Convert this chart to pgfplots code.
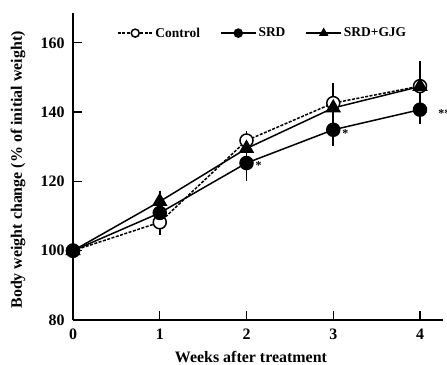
\documentclass[border=0pt]{standalone}
\usepackage{pgfplots}
\pgfplotsset{compat=1.18}
\usepackage{fontspec}
\setmainfont{Liberation Serif}
\begin{document}
\begin{tikzpicture}
\useasboundingbox (-73bp,-45bp) rectangle (374bp,320bp);
\begin{axis}[
  scale only axis,
  width=370bp, height=307bp,
  xmin=0, xmax=4.265, ymin=80, ymax=168.6,
  axis lines*=left,
  axis line style={line width=1.6bp},
  tick align=inside,
  major tick length=9bp,
  every tick/.style={line width=1.3bp, black},
  xtick={0,1,2,3,4},
  ytick={80,100,120,140,160},
  /pgf/number format/assume math mode=true,
  tick label style={font=\fontsize{16}{16}\selectfont\bfseries},
  xticklabel style={yshift=-5bp},
  yticklabel style={xshift=-5bp},
  xlabel={Weeks after treatment},
  ylabel={Body weight change (\% of initial weight)},
  label style={font=\fontsize{16}{16}\selectfont\bfseries},
  xlabel style={at={(axis description cs:0.481,-0.12)}, anchor=center},
  ylabel style={at={(axis description cs:-0.1486,0.489)}, anchor=center, rotate=0},
  clip=false,
  legend columns=3,
  legend style={draw=none, fill=none, inner sep=0pt, outer sep=0pt,
    at={(axis cs:0.507,162.8)}, anchor=west,
    font=\fontsize{13.5}{13.5}\selectfont\bfseries,
    /tikz/every even column/.append style={column sep=18bp}},
  legend image code/.code={\draw[mark size=4bp, mark repeat=2, mark phase=2] plot coordinates {(0bp,0bp) (17.5bp,0bp) (35bp,0bp)};},
  every axis plot/.append style={line width=1.5bp, black},
]
\addplot[dash pattern=on 3bp off 1.5bp, mark=*, mark size=6.5bp,
  mark options={solid, fill=white, line width=1.5bp},
  error bars/.cd, y dir=both, y explicit,
  error mark options={line width=1.6bp, mark size=4bp, solid}, error bar style={line width=1.6bp, solid}]
  coordinates {(0,100) +- (0,0) (1,108.2) +- (0,2.5) (2,131.8) +- (0,1.5) (3,142.6) +- (0,4.6) (4,147.5) +- (0,3)};
\addlegendentry{Control}
\addplot[solid, mark=*, mark size=6.5bp, mark options={fill=black},
  error bars/.cd, y dir=both, y explicit,
  error mark options={line width=1.6bp, mark size=4bp}, error bar style={line width=1.6bp}]
  coordinates {(0,100) +- (0,0) (1,110.9) +- (0,2) (2,125.3) +- (0,4) (3,134.9) +- (0,3.4) (4,140.7) +- (0,3)};
\addlegendentry{SRD}
\addplot[solid, mark=triangle*, mark size=7.5bp, mark options={fill=black},
  error bars/.cd, y dir=both, y explicit,
  error mark options={line width=1.6bp, mark size=4bp}, error bar style={line width=1.6bp}]
  coordinates {(0,100) +- (0,0) (1,114.2) +- (0,2) (2,129.5) +- (0,2) (3,141.2) +- (0,3) (4,147.4) +- (0,6.3)};
\addlegendentry{SRD+GJG}
\node[font=\fontsize{12}{12}\selectfont\bfseries] at (axis cs:2.14,124.6) {*};
\node[font=\fontsize{12}{12}\selectfont\bfseries] at (axis cs:3.14,133.8) {*};
\node[font=\fontsize{12}{12}\selectfont\bfseries, anchor=west] at (axis cs:4.17,139.6) {**};
\end{axis}
\end{tikzpicture}
\end{document}
